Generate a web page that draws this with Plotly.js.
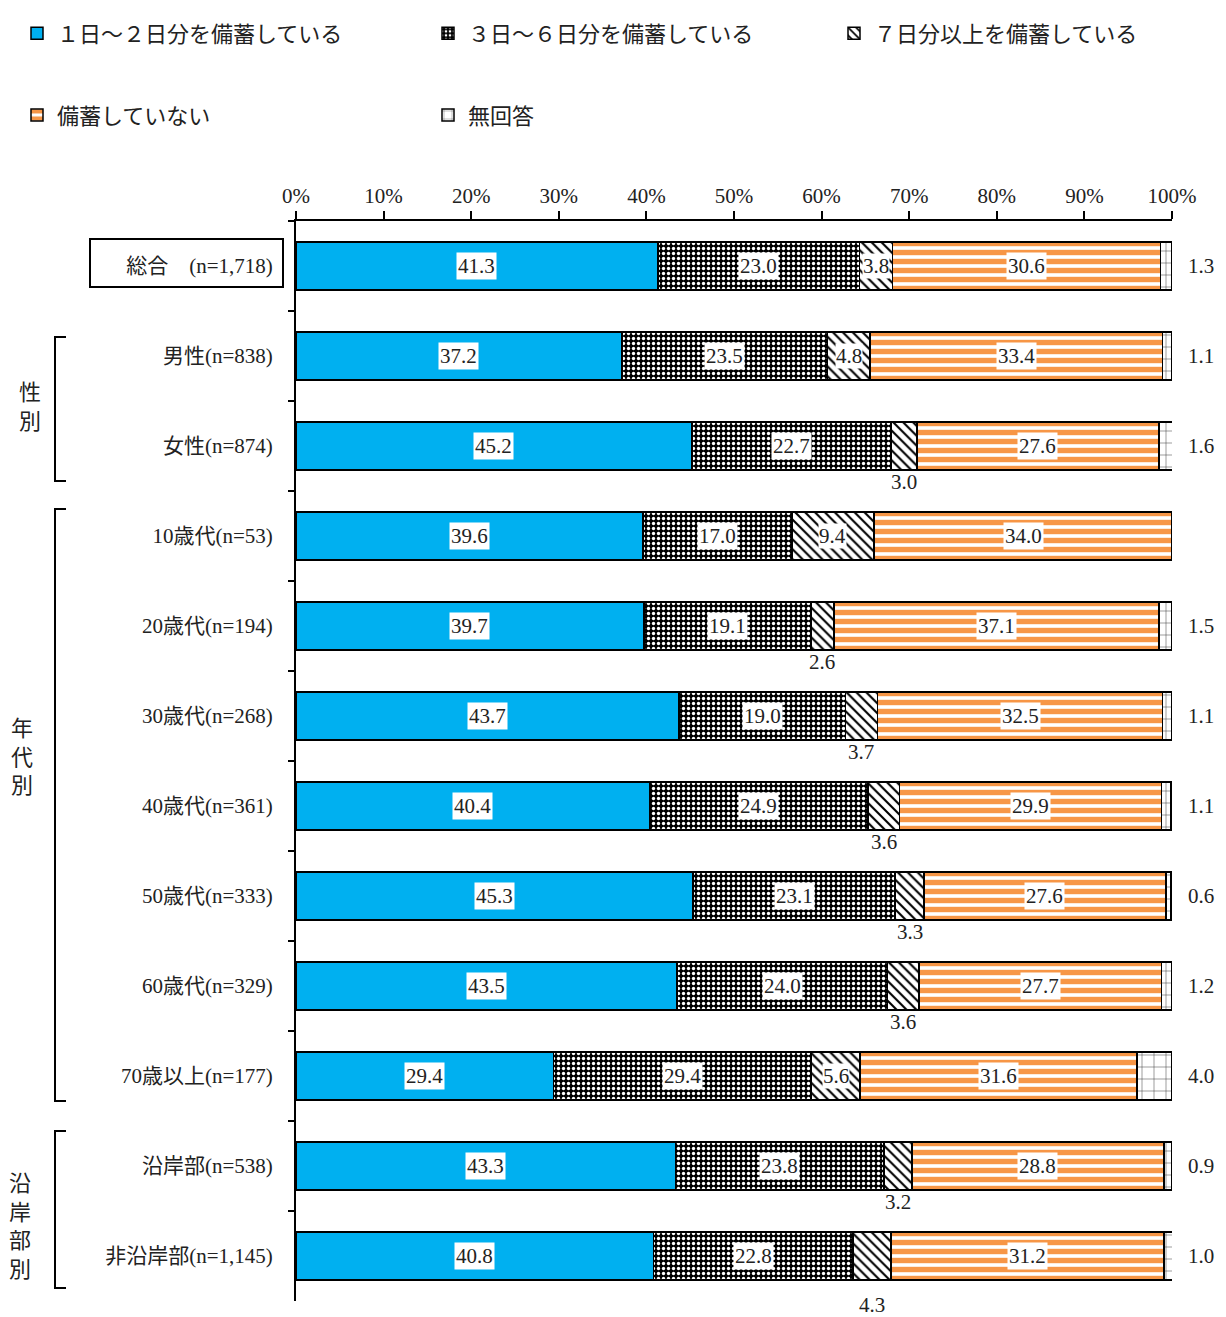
<!DOCTYPE html>
<html><head><meta charset="utf-8">
<script src="https://cdn.plot.ly/plotly-3.0.1.min.js"></script>
<style>body{margin:0;background:#fff}#chart{width:1226px;height:1317px}</style>
</head><body><div id="chart"></div>
<script>
const categories = ['総合　(n=1,718)','男性(n=838)','女性(n=874)','10歳代(n=53)','20歳代(n=194)','30歳代(n=268)','40歳代(n=361)','50歳代(n=333)','60歳代(n=329)','70歳以上(n=177)','沿岸部(n=538)','非沿岸部(n=1,145)'];
const seriesNames = ['１日～２日分を備蓄している','３日～６日分を備蓄している','７日分以上を備蓄している','備蓄していない','無回答'];
const s1 = [41.3,37.2,45.2,39.6,39.7,43.7,40.4,45.3,43.5,29.4,43.3,40.8];
const s2 = [23.0,23.5,22.7,17.0,19.1,19.0,24.9,23.1,24.0,29.4,23.8,22.8];
const s3 = [3.8,4.8,3.0,9.4,2.6,3.7,3.6,3.3,3.6,5.6,3.2,4.3];
const s4 = [30.6,33.4,27.6,34.0,37.1,32.5,29.9,27.6,27.7,31.6,28.8,31.2];
const s5 = [1.3,1.1,1.6,0,1.5,1.1,1.1,0.6,1.2,4.0,0.9,1.0];
const s3InsideRows = ['総合　(n=1,718)','男性(n=838)','10歳代(n=53)','70歳以上(n=177)'];
const groupLabels = ['性<br>別','年<br>代<br>別','沿<br>岸<br>部<br>別'];

const FONT = 'Liberation Serif, "Noto Sans CJK JP", serif';
const TXT = '#222';
const series = [s1,s2,s3,s4,s5];
const patterns = [
  {shape:''},
  {shape:'.', fgcolor:'#ffffff', bgcolor:'#000000', size:5, solidity:0.35},
  {shape:'\\', fgcolor:'#000000', bgcolor:'#ffffff', size:7, solidity:0.3},
  {shape:'-', fgcolor:'#F79646', bgcolor:'#ffffff', size:9, solidity:0.6},
  {shape:'+', fgcolor:'#333333', bgcolor:'#ffffff', size:12, solidity:0.08}
];
const colors = ['#00B0F0','#ffffff','#ffffff','#ffffff','#ffffff'];
const legendOf = ['legend','legend2','legend3','legend','legend2'];

const traces = series.map((vals,i)=>({
  type:'bar', orientation:'h', name:seriesNames[i], x:vals, y:categories,
  legend:legendOf[i], legendgroup:'g'+i,
  marker:{color:colors[i], pattern:patterns[i], line:{color:'#000', width:1.5}},
  hoverinfo:'skip'
}));

const annotations = [];
const fmt = v => v.toFixed(1);
const LBL = {family:FONT, size:21, color:TXT};
categories.forEach((c,r)=>{
  let cum = 0;
  series.forEach((vals,i)=>{
    const v = vals[r];
    const mid = cum + v/2;
    cum += v;
    if (v === 0) return;
    if (i===0 || i===1 || i===3) {
      annotations.push({x:mid, y:c, xref:'x', yref:'y', text:fmt(v), showarrow:false,
        bgcolor:'#ffffff', borderpad:1, font:LBL});
    } else if (i===2) {
      if (s3InsideRows.includes(c)) {
        annotations.push({x:mid, y:c, xref:'x', yref:'y', text:fmt(v), showarrow:false,
          bgcolor:'#ffffff', borderpad:0, font:LBL});
      } else {
        annotations.push({x:mid, y:c, xref:'x', yref:'y', text:fmt(v), showarrow:false,
          yshift: r===categories.length-1 ? -49 : -36, font:LBL});
      }
    } else {
      annotations.push({x:100, y:c, xref:'x', yref:'y', text:fmt(v), showarrow:false,
        xanchor:'left', xshift:14, font:LBL});
    }
  });
});

// group labels (vertical text)
const px = x => (x-296)/876;
const py = y => 1-(y-221)/1080;
const groupPos = [[30,407],[22,757],[20,1226]];
groupLabels.forEach((t,i)=>{
  annotations.push({xref:'paper', yref:'paper', x:px(groupPos[i][0]), y:py(groupPos[i][1]),
    text:t, showarrow:false, font:{family:FONT, size:22, color:TXT}, xanchor:'center', yanchor:'middle'});
});

const brackets = [[337,481],[509,1101],[1131,1288]];
const shapes = brackets.map(([a,b])=>({type:'path', xref:'paper', yref:'paper',
  path:`M ${px(66)} ${py(a)} L ${px(55)} ${py(a)} L ${px(55)} ${py(b)} L ${px(66)} ${py(b)}`,
  line:{color:'#000', width:2}}));
shapes.push({type:'rect', xref:'paper', yref:'paper', x0:px(90), x1:px(283), y0:py(239), y1:py(287),
  line:{color:'#000', width:2}, fillcolor:'rgba(0,0,0,0)'});

const legendBase = {orientation:'v', traceorder:'grouped', tracegroupgap:50, yanchor:'top', xanchor:'left',
  y:1.193, bgcolor:'rgba(0,0,0,0)', font:{family:FONT, size:22, color:TXT}};

const layout = {
  width:1226, height:1317,
  margin:{l:296, r:54, t:221, b:16, autoexpand:false},
  paper_bgcolor:'#fff', plot_bgcolor:'#fff',
  barmode:'stack', bargap:0.467,
  font:{family:FONT, color:TXT},
  showlegend:true,
  legend:Object.assign({}, legendBase, {x:px(17)}),
  legend2:Object.assign({}, legendBase, {x:px(428)}),
  legend3:Object.assign({}, legendBase, {x:px(834)}),
  xaxis:{side:'top', range:[0,100], dtick:10, tick0:0, ticksuffix:'%', showgrid:false, zeroline:false,
    showline:true, linecolor:'#000', linewidth:2, ticks:'outside', ticklen:8, tickwidth:2, tickcolor:'#000',
    tickfont:{family:FONT, size:21, color:TXT}, fixedrange:true},
  yaxis:{type:'category', categoryorder:'array', categoryarray:categories, autorange:'reversed',
    showgrid:false, zeroline:false, showline:true, linecolor:'#000', linewidth:2,
    ticks:'outside', tickson:'boundaries', ticklen:6, tickwidth:2, tickcolor:'#000', ticklabelstandoff:17,
    tickfont:{family:FONT, size:21, color:TXT}, fixedrange:true},
  annotations:annotations, shapes:shapes
};

Plotly.newPlot('chart', traces, layout, {displayModeBar:false, staticPlot:true});
</script>
</body></html>
